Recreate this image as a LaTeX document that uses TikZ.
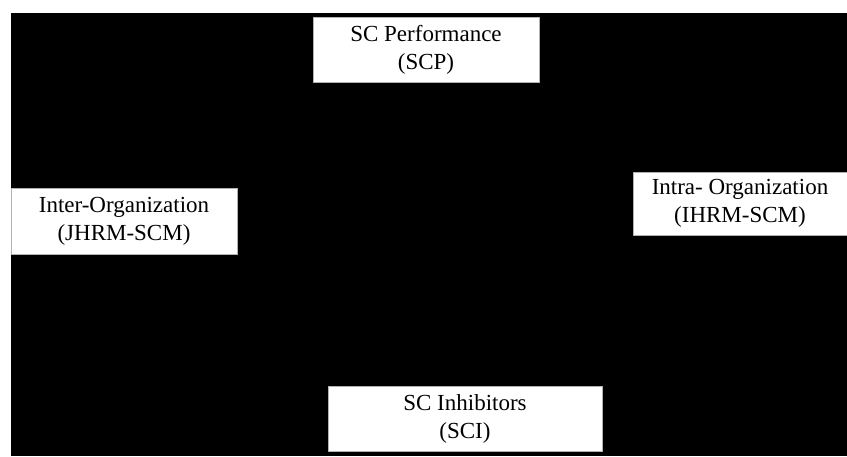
\documentclass[tikz,border=0pt]{standalone}
\usepackage{fontspec}
\setmainfont{Liberation Serif}
\begin{document}
\begin{tikzpicture}[x=1pt,y=1pt]
\tikzstyle{every node} = [rectangle, fill=white, draw=gray!60, line width=.4pt, align=center, inner sep=0pt, font=\fontsize{23}{28}\selectfont]
\useasboundingbox (0,0) rectangle (847,456);
\fill[white] (0,0) rectangle (847,456);
\fill[black] (11,0) rectangle (847,443);
\node[minimum width=226, minimum height=65] (scp) at (426,406.5) {SC Performance\\(SCP)};
\node[minimum width=226, minimum height=66] (jhrm) at (124,235) {Inter-Organization\\(JHRM-SCM)};
\node[minimum width=214, minimum height=63] (ihrm) at (740,252.5) {Intra- Organization\\(IHRM-SCM)};
\node[minimum width=274, minimum height=65] (sci) at (465,37.5) {SC Inhibitors\\(SCI)};
\end{tikzpicture}
\end{document}
